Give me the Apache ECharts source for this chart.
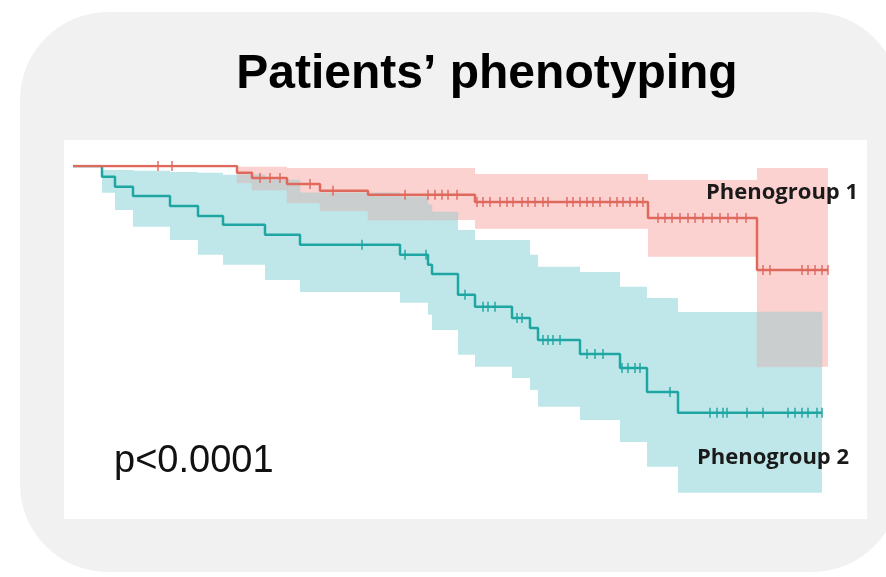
<!DOCTYPE html>
<html>
<head>
<meta charset="utf-8">
<script src="https://cdn.jsdelivr.net/npm/echarts@6/dist/echarts.min.js"></script>
<style>
  html, body { margin: 0; padding: 0; background: #ffffff; }
  #chart { width: 886px; height: 577px; }
</style>
</head>
<body>
<div id="chart"></div>
<script>
// Kaplan–Meier survival by phenogroup (time in months)

// Phenogroup 1: event times, survival after each event, 95% CI bounds per interval
const group1Times = [0, 16.4, 17.9, 21.4, 24.7, 29.5, 40.2, 57.5, 68.4, 75.5];
const group1Surv  = [1, 0.983, 0.970, 0.955, 0.938, 0.928, 0.910, 0.870, 0.740, 0.740];
const group1Upper = [1, 0.998, 0.998, 0.995, 0.995, 0.995, 0.980, 0.965, 0.995, 0.995];
const group1Lower = [1, 0.958, 0.940, 0.908, 0.888, 0.865, 0.843, 0.773, 0.498, 0.498];
const group1Censored = [8.5, 9.9, 18.7, 19.7, 20.7, 23.7, 26.0, 33.2, 35.5, 36.2, 36.9, 37.5, 38.4,
  40.4, 41.0, 41.7, 42.7, 43.4, 44.0, 44.9, 45.5, 46.2, 47.0, 47.5, 49.4, 50.0, 50.7, 51.4, 52.0,
  52.7, 53.7, 54.4, 55.0, 55.7, 56.4, 57.0, 58.5, 59.2, 59.9, 60.7, 61.5, 62.2, 63.0, 63.9, 64.7,
  65.5, 66.4, 67.3, 69.0, 69.7, 72.9, 73.5, 74.2, 74.9, 75.5];

// Phenogroup 2
const group2Times = [0, 2.9, 4.2, 6.0, 9.7, 12.5, 15.0, 19.2, 22.7, 32.7, 35.5, 35.9, 38.5, 40.2,
  43.9, 45.7, 46.5, 50.7, 54.7, 57.4, 60.5, 74.9];
const group2Surv  = [1, 0.973, 0.948, 0.925, 0.900, 0.875, 0.853, 0.828, 0.803, 0.778, 0.753, 0.730,
  0.678, 0.648, 0.620, 0.595, 0.565, 0.530, 0.495, 0.435, 0.383, 0.383];
const group2Upper = [1, 0.990, 0.990, 0.988, 0.985, 0.983, 0.978, 0.965, 0.933, 0.923, 0.903, 0.885,
  0.840, 0.815, 0.815, 0.778, 0.748, 0.735, 0.698, 0.670, 0.635, 0.635];
const group2Lower = [1, 0.933, 0.890, 0.848, 0.815, 0.778, 0.753, 0.715, 0.685, 0.658, 0.628, 0.590,
  0.528, 0.498, 0.470, 0.440, 0.398, 0.365, 0.310, 0.248, 0.183, 0.183];
const group2Censored = [28.9, 33.2, 35.3, 39.2, 41.0, 41.5, 42.2, 44.4, 44.9, 47.0, 47.5, 48.0, 48.7,
  51.4, 52.2, 53.0, 54.9, 55.5, 56.2, 56.7, 59.7, 63.7, 64.4, 65.0, 65.4, 67.4, 69.0, 71.5, 72.2,
  72.9, 73.5, 74.4, 74.9];

const groupNames = ['Phenogroup 1', 'Phenogroup 2'];
const pValueText = 'p<0.0001';
const titleText = 'Patients\u2019 phenotyping';

const RED = '#e0695e', RED_BAND = '#fcd2d0';
const TEAL = '#1fa6a2', TEAL_BAND = '#bfe7ea';
const OVERLAP = '#cbcecf';

// value of a step function at time t
function stepAt(times, values, t) {
  let v = values[0];
  for (let i = 0; i < times.length; i++) { if (times[i] <= t) v = values[i]; else break; }
  return v;
}

function stepLine(times, surv) {
  return times.map((t, i) => [t, surv[i]]);
}

function censorPoints(times, surv, cens) {
  return cens.map(t => [t, stepAt(times, surv, t)]);
}

function bandPolygon(times, upper, lower, api) {
  const top = [], bottom = [];
  for (let i = 0; i < times.length - 1; i++) {
    top.push(api.coord([times[i], upper[i]]), api.coord([times[i + 1], upper[i]]));
    bottom.push(api.coord([times[i], lower[i]]), api.coord([times[i + 1], lower[i]]));
  }
  return top.concat(bottom.reverse());
}

function bandSeries(times, upper, lower, color, z) {
  return {
    type: 'custom', z: z, silent: true, data: [[0, 0]],
    renderItem: (params, api) => ({
      type: 'polygon',
      shape: { points: bandPolygon(times, upper, lower, api) },
      style: { fill: color }
    })
  };
}

// region where both confidence bands cover the same survival range
function overlapSeries(z) {
  return {
    type: 'custom', z: z, silent: true, data: [[0, 0]],
    renderItem: (params, api) => {
      const start = Math.max(group1Times[0], group2Times[0]);
      const end = Math.min(group1Times[group1Times.length - 1], group2Times[group2Times.length - 1]);
      const cuts = Array.from(new Set(group1Times.concat(group2Times)))
        .filter(t => t >= start && t <= end).sort((a, b) => a - b);
      const children = [];
      for (let i = 0; i < cuts.length - 1; i++) {
        const t = cuts[i];
        const hi = Math.min(stepAt(group1Times, group1Upper, t), stepAt(group2Times, group2Upper, t));
        const lo = Math.max(stepAt(group1Times, group1Lower, t), stepAt(group2Times, group2Lower, t));
        if (hi > lo) {
          const a = api.coord([t, hi]), b = api.coord([cuts[i + 1], lo]);
          children.push({
            type: 'rect',
            shape: { x: a[0], y: a[1], width: b[0] - a[0], height: b[1] - a[1] },
            style: { fill: OVERLAP, stroke: OVERLAP, lineWidth: 0.6 }
          });
        }
      }
      return { type: 'group', children: children };
    }
  };
}

function lineSeries(name, times, surv, color) {
  return {
    name: name, type: 'line', step: 'end', z: 10, silent: true,
    data: stepLine(times, surv), symbol: 'none',
    lineStyle: { color: color, width: 2.5 }
  };
}

function censorSeries(times, surv, cens, color) {
  return {
    type: 'scatter', z: 11, silent: true,
    data: censorPoints(times, surv, cens),
    symbol: 'rect', symbolSize: [1.8, 10],
    itemStyle: { color: color }
  };
}

const chart = echarts.init(document.getElementById('chart'), null, { renderer: 'canvas' });

chart.setOption({
  animation: false,
  backgroundColor: '#ffffff',
  graphic: [
    { type: 'rect', z: -10, shape: { x: 20, y: 12, width: 880, height: 560, r: 88 },
      style: { fill: '#f1f1f1' } },
    { type: 'rect', z: -9, shape: { x: 64, y: 140, width: 803, height: 379 },
      style: { fill: '#ffffff' } },
    { type: 'text', z: 20, x: 487, y: 75,
      style: { text: titleText, fill: '#000000', font: 'bold 48px "Liberation Sans", Arial, sans-serif',
        align: 'center', verticalAlign: 'middle' } },
    { type: 'text', z: 20, x: 706, y: 193,
      style: { text: groupNames[0], fill: '#1a1a1a', font: 'bold 22px "Open Sans", sans-serif',
        align: 'left', verticalAlign: 'middle' } },
    { type: 'text', z: 20, x: 697, y: 458,
      style: { text: groupNames[1], fill: '#1a1a1a', font: 'bold 22px "Open Sans", sans-serif',
        align: 'left', verticalAlign: 'middle' } },
    { type: 'text', z: 20, x: 114, y: 462,
      style: { text: pValueText, fill: '#111111', font: '38px "Liberation Sans", Arial, sans-serif',
        align: 'left', verticalAlign: 'middle' } }
  ],
  grid: { left: 73, top: 166, width: 760, height: 400, containLabel: false },
  xAxis: { type: 'value', min: 0, max: 76, show: false },
  yAxis: { type: 'value', min: 0, max: 1, show: false },
  series: [
    bandSeries(group2Times, group2Upper, group2Lower, TEAL_BAND, 1),
    bandSeries(group1Times, group1Upper, group1Lower, RED_BAND, 2),
    overlapSeries(3),
    lineSeries(groupNames[1], group2Times, group2Surv, TEAL),
    lineSeries(groupNames[0], group1Times, group1Surv, RED),
    censorSeries(group2Times, group2Surv, group2Censored, TEAL),
    censorSeries(group1Times, group1Surv, group1Censored, RED)
  ]
});
</script>
</body>
</html>
